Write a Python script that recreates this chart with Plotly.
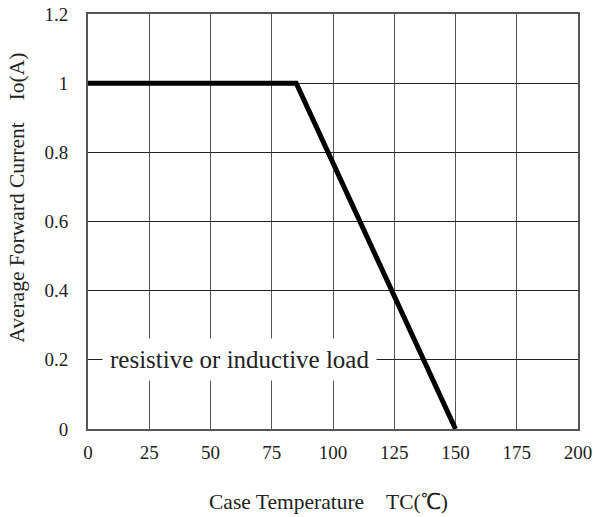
import plotly.graph_objects as go

# Derating curve: average forward current vs case temperature
temp_c = [0, 85, 150]
current_a = [1.0, 1.0, 0.0]

x_ticks = [0, 25, 50, 75, 100, 125, 150, 175, 200]
y_ticks = [0, 0.2, 0.4, 0.6, 0.8, 1, 1.2]
y_tick_text = ["0", "0.2", "0.4", "0.6", "0.8", "1", "1.2"]

x_title = "Case Temperature\u3000TC(\u2103)"
y_title = "Average Forward Current\u3000Io(A)"
load_note = "resistive or inductive load"

font_family = "Liberation Serif, Times New Roman, serif"

fig = go.Figure()
fig.add_trace(go.Scatter(
    x=temp_c, y=current_a, mode="lines",
    line=dict(color="black", width=5),
    showlegend=False, hoverinfo="skip",
))

fig.add_annotation(
    x=62, y=0.2, xref="x", yref="y",
    text=load_note,
    showarrow=False, bgcolor="white",
    font=dict(family=font_family, size=25, color="#222"),
    borderpad=7,
)

# axis titles placed as paper-referenced annotations
fig.add_annotation(
    x=0.49, y=-0.176, xref="paper", yref="paper",
    text=x_title, showarrow=False,
    xanchor="center", yanchor="middle",
    font=dict(family=font_family, size=21.5, color="#222"),
)
fig.add_annotation(
    x=-0.145, y=0.557, xref="paper", yref="paper",
    text=y_title, showarrow=False, textangle=-90,
    xanchor="center", yanchor="middle",
    font=dict(family=font_family, size=21.5, color="#222"),
)

fig.update_layout(
    width=593, height=517,
    margin=dict(l=88, r=15, t=14, b=88),
    plot_bgcolor="white", paper_bgcolor="white",
    font=dict(family=font_family, size=19, color="#222"),
    xaxis=dict(
        range=[0, 200], tickvals=x_ticks, ticktext=[str(v) for v in x_ticks],
        showgrid=True, gridcolor="#555", gridwidth=1,
        showline=True, linecolor="#555", linewidth=2, mirror=True,
        zeroline=False, ticks="", ticklen=0, automargin=False,
        ticklabelstandoff=5,
    ),
    yaxis=dict(
        range=[0, 1.2], tickvals=y_ticks, ticktext=y_tick_text,
        showgrid=True, gridcolor="#222", gridwidth=1,
        showline=True, linecolor="#555", linewidth=2, mirror=True,
        zeroline=False, ticks="", ticklen=0, automargin=False,
        ticklabelstandoff=14,
    ),
)

fig.write_html("out.html")
